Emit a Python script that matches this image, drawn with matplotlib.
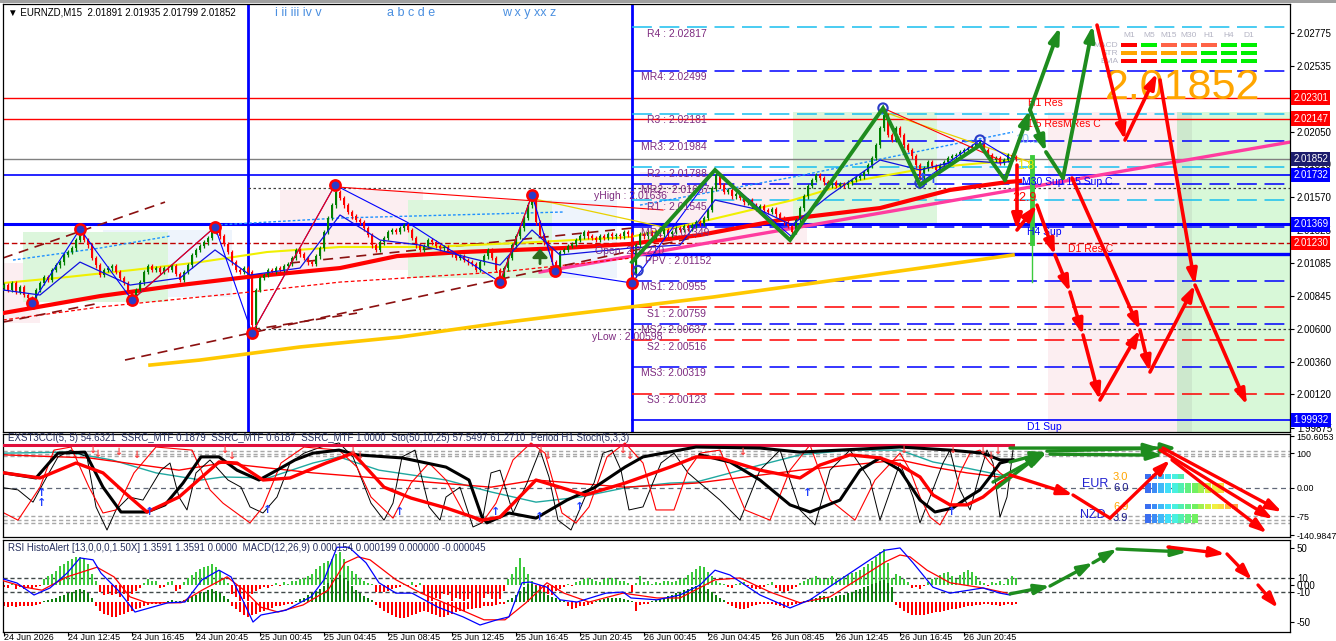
import matplotlib
matplotlib.use("Agg")
import matplotlib.pyplot as plt
from matplotlib.patches import Rectangle
import numpy as np

plt.rcParams['font.family'] = ['Liberation Sans', 'DejaVu Sans']

# ---------------- data ----------------
# M15 closes, one per bar (bar 0 = 24 Jun 08:45)
closes = [
    2.00923, 2.00887, 2.00938, 2.00872, 2.00909, 2.00850, 2.00828, 2.00813, 2.00887, 2.00938,
    2.00982, 2.00960, 2.01034, 2.01070, 2.01092, 2.01144, 2.01166, 2.01195, 2.01254, 2.01313,
    2.01254, 2.01217, 2.01122, 2.01070, 2.00997, 2.01034, 2.01048, 2.01063, 2.01019, 2.00975,
    2.00938, 2.00872, 2.00828, 2.00887, 2.00945, 2.01019, 2.01063, 2.01034, 2.01048, 2.01019,
    2.01048, 2.01034, 2.01063, 2.01004, 2.00960, 2.01019, 2.01070, 2.01144, 2.01181, 2.01210,
    2.01239, 2.01269, 2.01313, 2.01328, 2.01283, 2.01225, 2.01166, 2.01092, 2.01034, 2.01019,
    2.01048, 2.01019, 2.00629, 2.00887, 2.00975, 2.00997, 2.01034, 2.01019, 2.01048, 2.01034,
    2.01063, 2.01078, 2.01122, 2.01181, 2.01151, 2.01122, 2.01092, 2.01078, 2.01136, 2.01195,
    2.01313, 2.01416, 2.01511, 2.01607, 2.01563, 2.01511, 2.01460, 2.01430, 2.01401, 2.01386,
    2.01342, 2.01291, 2.01217, 2.01181, 2.01239, 2.01269, 2.01313, 2.01328, 2.01313, 2.01342,
    2.01364, 2.01328, 2.01269, 2.01217, 2.01181, 2.01210, 2.01254, 2.01239, 2.01210, 2.01195,
    2.01203, 2.01166, 2.01151, 2.01122, 2.01136, 2.01107, 2.01092, 2.01078, 2.01034, 2.01092,
    2.01136, 2.01181, 2.01122, 2.01034, 2.00975, 2.01048, 2.01122, 2.01217, 2.01283, 2.01342,
    2.01416, 2.01511, 2.01563, 2.01386, 2.01291, 2.01239, 2.01195, 2.01092, 2.01048, 2.01166,
    2.01181, 2.01210, 2.01225, 2.01254, 2.01283, 2.01313, 2.01283, 2.01269, 2.01254, 2.01283,
    2.01269, 2.01298, 2.01283, 2.01291, 2.01283, 2.01313, 2.01298, 2.00997, 2.01217, 2.01298,
    2.01283, 2.01313, 2.01283, 2.01313, 2.01298, 2.01328, 2.01298, 2.01313, 2.01342, 2.01328,
    2.01357, 2.01342, 2.01364, 2.01386, 2.01372, 2.01416, 2.01475, 2.01636, 2.01732, 2.01658,
    2.01607, 2.01622, 2.01577, 2.01592, 2.01563, 2.01533, 2.01548, 2.01511, 2.01489, 2.01504,
    2.01475, 2.01460, 2.01482, 2.01445, 2.01416, 2.01386, 2.01357, 2.01313, 2.01401, 2.01489,
    2.01577, 2.01651, 2.01695, 2.01732, 2.01710, 2.01680, 2.01658, 2.01680, 2.01651, 2.01666,
    2.01658, 2.01680, 2.01695, 2.01710, 2.01724, 2.01754, 2.01805, 2.01857, 2.01952, 2.02077,
    2.02173, 2.02026, 2.01989, 2.02077, 2.02026, 2.01952, 2.01916, 2.01871, 2.01805, 2.01710,
    2.01783, 2.01827, 2.01798, 2.01769, 2.01805, 2.01827, 2.01857, 2.01871, 2.01879, 2.01901,
    2.01916, 2.01930, 2.01945, 2.01960, 2.01974, 2.01916, 2.01879, 2.01842, 2.01857, 2.01820,
    2.01842, 2.01879, 2.01864, 2.01852,
]
first_open = 2.00905

time_bars = [0, 16, 32, 48, 64, 80, 96, 112, 128, 144, 160, 176, 192, 208, 224, 240]
time_labels = ['24 Jun 2026', '24 Jun 12:45', '24 Jun 16:45', '24 Jun 20:45', '25 Jun 00:45',
               '25 Jun 04:45', '25 Jun 08:45', '25 Jun 12:45', '25 Jun 16:45', '25 Jun 20:45',
               '26 Jun 00:45', '26 Jun 04:45', '26 Jun 08:45', '26 Jun 12:45', '26 Jun 16:45',
               '26 Jun 20:45']

price_ticks = [2.02775, 2.02535, 2.02050, 2.01810, 2.01570, 2.01325, 2.01085,
               2.00845, 2.00600, 2.00360, 2.00120, 1.99875]
price_boxes = [(2.02301, '#FF0000'), (2.02147, '#FF0000'), (2.01852, '#1C1C6C'),
               (2.01732, '#0000FF'), (2.01369, '#0000FF'), (2.01230, '#FF0000'),
               (1.99932, '#0000FF')]

# daily pivots (drawn from the day separator onward)
pivots = [('R4 : ', 2.02817, '#19BFEF'), ('MR4: ', 2.02499, '#0000FF'),
          ('R3 : ', 2.02181, '#19BFEF'), ('MR3: ', 2.01984, '#0000FF'),
          ('R2 : ', 2.01788, '#19BFEF'), ('MR2 : ', 2.01667, '#0000FF'),
          ('R1 : ', 2.01545, '#19BFEF'), ('MR1 : ', 2.01349, '#0000FF'),
          ('MS1: ', 2.00955, '#0000FF'), ('S1 : ', 2.00759, '#FF0000'),
          ('MS2: ', 2.00637, '#0000FF'), ('S2 : ', 2.00516, '#FF0000'),
          ('MS3: ', 2.00319, '#0000FF'), ('S3 : ', 2.00123, '#FF0000')]
ppv = 2.01152
d1_sup = 1.99932
y_high = 2.01636
y_low = 2.00598

# shaded zones: (bar0, bar1, price0, price1, colour)
zones = [(-0.25, 9, 2.00644, 2.01085, '#FCEEF1'),
         (24.75, 57, 2.00835, 2.01328, '#EEF4FC'),
         (4.75, 41, 2.00798, 2.01313, '#DCF6DC'),
         (69, 104.75, 2.01034, 2.01622, '#FCEEF1'),
         (137, 153.25, 2.00975, 2.01548, '#EEF4FC'),
         (101, 137, 2.00975, 2.01548, '#DCF6DC'),
         (159, 200.75, 2.01232, 2.01754, '#FCEEF1'),
         (197.25, 233.25, 2.01379, 2.02195, '#DCF6DC'),
         (233.25, 249, 2.01695, 2.02195, '#EEF4FC'),
         (261, 293.25, 1.99843, 2.02195, '#FCEEF1'),
         (293.25, 321.5, 1.99843, 2.02195, '#D8F8D8'),
         (293.25, 297, 1.99843, 2.02195, '#CDE8CD')]

ma_red = [(-0.25, 2.00717), (24, 2.00842), (44, 2.00923), (60.75, 2.00982), (84, 2.01048),
          (98.25, 2.01136), (114.75, 2.01166), (139.75, 2.01195), (156.5, 2.01225),
          (174, 2.01291), (194, 2.01401), (219, 2.01489), (236.5, 2.01622), (250.75, 2.01680),
          (254, 2.01688)]
ma_gold = [(36.5, 2.00335), (49, 2.00372), (74, 2.00468), (99, 2.00541), (124, 2.00644),
           (144, 2.00717), (177.25, 2.00835), (211.5, 2.00975), (252.25, 2.01144)]
ma_yellow = [(-0.25, 2.00938), (15.75, 2.00982), (32.25, 2.01034), (49, 2.01092),
             (65.75, 2.01166), (84, 2.01203), (106.5, 2.01203), (128.25, 2.01232),
             (156.5, 2.01276), (174, 2.01386), (197.25, 2.01548), (214, 2.01695),
             (230.75, 2.01783), (247.25, 2.01827), (252.25, 2.01842)]
ma_blue = [(-0.25, 2.00887), (9, 2.00850), (19, 2.01092), (31.5, 2.00923), (44, 2.00975),
           (52.75, 2.01181), (61.5, 2.00997), (74, 2.01048), (84, 2.01438), (94, 2.01254),
           (104, 2.01217), (116.5, 2.01122), (124, 2.01070), (132, 2.01328), (139, 2.01144),
           (156.5, 2.01195), (169, 2.01217), (177.75, 2.01548), (189, 2.01475),
           (197, 2.01364), (206.5, 2.01585), (219, 2.01842), (229, 2.01769), (239, 2.01842),
           (249, 2.01820), (252.25, 2.01835)]
magenta_trend = [(134, 2.01019), (321.5, 2.01974)]
red_dash_ma = [(-0.25, 2.00666), (24, 2.00762), (61.5, 2.00872), (84, 2.00945),
               (124, 2.01019), (157, 2.01122)]
channels = [[(-0.25, 2.01122), (40.25, 2.01533)], [(30.25, 2.00372), (173, 2.01276)],
            [(61.5, 2.00593), (88.25, 2.00717)], [(71.5, 2.01085), (157, 2.01342)],
            [(-0.25, 2.00651), (24, 2.00791)]]
blue_dotted = [[(2.25, 2.01107), (24, 2.01195), (41.5, 2.01283)],
               [(52.75, 2.01364), (84, 2.01416), (139.75, 2.01460)],
               [(159, 2.01511), (197.25, 2.01717), (252.25, 2.02048)]]

zig_bars = [7, 19, 32, 52.75, 62, 82.75, 100.75, 124, 132, 137.75, 157, 177.75, 197,
            219.75, 229, 244, 252.25]
zig_prices = [2.00791, 2.01335, 2.00813, 2.01350, 2.00570, 2.01658, 2.01386, 2.00945,
              2.01585, 2.01026, 2.00938, 2.01769, 2.01276, 2.02224, 2.01673, 2.01989, 2.01842]
red_zig = [[(32, 2.00813), (52.75, 2.01350)], [(62, 2.00570), (82.75, 2.01658)],
           [(83.25, 2.01644), (164.75, 2.01475)], [(124, 2.00945), (132, 2.01585)],
           [(219.75, 2.02224), (249, 2.01842)]]
yellow_thin = [[(131.5, 2.01563), (164.75, 2.01350)], [(220.75, 2.02187), (256.5, 2.01827)]]
swing_marks = [(7, 2.00791), (19, 2.01335), (32, 2.00813), (52.75, 2.01350), (62, 2.00570),
               (82.75, 2.01658), (124, 2.00945), (132, 2.01585), (137.75, 2.01026),
               (157, 2.00938)]
swing_marks_blue = [(219.75, 2.02224), (229, 2.01673), (244, 2.01989), (158.5, 2.01030)]

# forecast paths in the price pane
green_path = [(157, 2.01092), (177.75, 2.01769), (196.5, 2.01254), (219.75, 2.02224),
              (229, 2.01658), (244, 2.01952), (250.25, 2.01695)]
green_arrows = [(250.25, 2.01695, 256.5, 2.02210), (256.5, 2.02210, 264, 2.02820),
                (256.5, 2.02210, 260.5, 2.01901), (260.5, 2.01901, 264.75, 2.01710),
                (264.75, 2.01710, 272.25, 2.02834)]
red_arrows = [(253.25, 2.01805, 253.25, 2.01328), (253.25, 2.01328, 258.25, 2.01511),
              (258.25, 2.01511, 262.75, 2.01144), (262.75, 2.01144, 266.5, 2.00872),
              (266.5, 2.00872, 269.75, 2.00556), (269.75, 2.00556, 274, 2.00078),
              (274, 2.00078, 284, 2.00593), (267, 2.01710, 284, 2.00593),
              (284, 2.00593, 286.5, 2.00284), (286.5, 2.00284, 297.75, 2.00923),
              (297.75, 2.00923, 310.75, 2.00041), (273.25, 2.02834, 280.25, 2.01989),
              (280.25, 2.01989, 288.25, 2.02481), (289, 2.02430, 297.75, 2.00923)]

# signal table (top right)
tf_names = ['M1', 'M5', 'M15', 'M30', 'H1', 'H4', 'D1']
table_rows = ['MACD', 'STR', 'EMA']
table_cols = [['#FF0000', '#00F000', '#FF6347', '#FF6347', '#FF6347', '#00F000', '#00F000'],
              ['#FFA500', '#FFA500', '#FFA500', '#FFA500', '#00F000', '#00F000', '#00F000'],
              ['#FF0000', '#FF0000', '#00F000', '#00F000', '#00F000', '#00F000', '#00F000']]
table_prices = [2.02687, 2.02628, 2.02570]

# ---- CCI / stochastic pane ----
cci_black_a = [(0, 43), (8, 28), (11.25, 72), (13.5, 101), (20.25, 104), (24.75, 1), (29.25, -72),
               (35.75, -72), (40.25, -51), (44.75, 13), (49.25, 90), (53.75, 90), (58.25, 51),
               (63.75, 22), (68.25, 51), (72.75, 81), (77.25, 101), (83.75, 110), (88.25, 96),
               (99.5, 87), (110.5, 60), (116.25, 22), (119.5, -87), (120.75, -104),
               (126.25, -75), (133, -90), (140.75, -37), (147.5, -1), (155.25, 60),
               (159.75, 90), (173, 119), (189, 116), (199, 104), (209, 110), (224, 119),
               (236.5, 110), (244.75, 101), (249, 81), (252.25, 81)]
cci_black_b = [(174, 96), (181.5, 75), (189, 22), (196.5, -51), (201.5, -72), (209, -37),
               (214, 51), (219, 87), (224, 51), (229, -37), (232.75, -72), (237.25, -60),
               (240.75, -31), (244, -7), (246.5, 31), (249, 72), (252.25, 81)]
cci_red_thick = [(0, 43), (9, 28), (18, 72), (24.75, 43), (30.25, -16), (35.75, -72),
                 (43.75, -28), (53.75, 75), (58.25, 72), (64.75, 22), (71.5, 28), (80.5, 72),
                 (87.25, 101), (95, 1), (101.75, -31), (110.5, -60), (119.5, -96), (124, -87),
                 (133, 22), (139.5, -1), (145.25, -22), (155.25, 13), (166.5, 60), (173, 90),
                 (179, 87), (189, 51), (199, 28), (204, 66), (211.5, 96), (219, 87), (224, 66),
                 (229, 31), (232.25, -22), (236.5, -51), (240.75, -51), (244.75, -28),
                 (249, 13), (251.5, 31)]
cci_thin_black = [(0, -1), (3.5, -7), (7.25, -43), (10.25, 22), (13.5, 90), (16.75, 110),
                  (20.75, 90), (23, -57), (25.75, -125), (28, -66), (31.25, -28), (34.75, -37),
                  (39.25, 51), (41.5, 72), (43.75, -28), (45.75, -66), (48, 43), (51.5, 81),
                  (56, 22), (59.25, 1), (61.5, -57), (64.75, -75), (68.25, -28), (71.5, 72),
                  (75, 101), (79.25, 119), (83.75, 131), (87.25, 90), (91.75, -46), (95, -96),
                  (97.25, -46), (99.5, 90), (102.75, 110), (106.25, -57), (109, -96),
                  (110.5, -28), (114, 1), (117.25, -116), (119.5, -104), (121.75, 43),
                  (124, 51), (127.25, -75), (130.75, 13), (134, 110), (136.25, 31),
                  (138.5, -96), (141.75, -125), (145.25, -28), (147.5, 13), (149.75, 101),
                  (152, 110), (154.25, 51), (156.25, -66), (159.75, -57), (164.25, 72),
                  (167.5, 101), (171, 43), (174, 13), (179, -37), (184, -96), (189, 51),
                  (194, 110), (199, -66), (202.75, -110), (206.5, 51), (211.5, 110),
                  (216.5, 22), (219, -96), (224, 72), (227.25, -28), (229, -104),
                  (231.5, -28), (234.75, 72), (236.5, 110), (239, -7), (241.5, -66),
                  (244, 43), (245.75, 110), (247.25, 72), (249, -87), (250.75, -28),
                  (252.25, 110)]
cci_thin_red = [(0, -75), (3.5, -96), (9, 1), (12.5, 110), (16.75, 119), (21.25, 1),
                (24.75, -75), (28, -66), (32.5, 43), (38, 119), (47, 110), (51.5, -7),
                (54.75, -46), (61.5, -104), (64.75, -57), (69.25, 72), (75, 119), (83.75, 110),
                (88.25, 60), (91.75, -28), (97.25, -90), (101.75, 13), (106.25, 72),
                (110.5, 22), (115, -75), (119.5, -104), (123, -46), (127.25, 81),
                (131.75, 131), (135.25, 101), (139.5, -75), (143, -104), (146.25, -57),
                (150.75, 90), (155.25, 131), (159.75, 72), (163, -66), (167.5, -66),
                (171, 51), (174, 101), (179, 110), (185.25, -66), (191.5, -96), (196.5, 51),
                (201.5, 125), (206.5, -37), (212.75, -96), (217.75, 22), (224, 101),
                (226.5, 51), (229, -28), (231.5, -87), (234, -110), (236.5, -57), (239, 43),
                (241.5, 101), (244, 110), (246.5, 72), (249, 43), (251.5, 22)]
cci_teal = [(0, 101), (15.75, 104), (27, 81), (38, 43), (49.25, 22), (54.75, 31), (66, 28),
            (77.25, 72), (83.75, 90), (93.75, 51), (110.5, 22), (121.75, -13), (133, -43),
            (144, -28), (155.25, -1), (166.5, 13), (173, 16), (189, 66), (199, 96),
            (211.5, 110), (224, 110), (232.25, 75), (240.75, 57), (249, 37), (251.5, 34)]
cci_red_slow = [(0, 96), (21.25, 87), (43.75, 51), (54.75, 72), (77.25, 43), (99.5, 22),
                (121.75, 1), (133, 22), (155.25, 1), (173, 13), (199, 51), (224, 81),
                (232.25, 60), (240.75, 43), (250.75, 28)]
cci_up_bars = [9.5, 9.5, 36.5, 66, 99, 123, 134, 144, 201, 237]
cci_up_vals = [-16, -46, -72, -66, -72, -72, -87, -57, -16, -72]
cci_dn_bars = [22, 23.2, 28.5, 33, 55, 56.8, 87, 88.8, 134, 135.8, 154.5, 156.3,
               184.5, 224.75, 237, 244.5, 246.5, 248.3]
cci_dn_vals = [110, 98, 104, 96, 110, 94, 106, 94, 110, 94, 110, 94, 104, 110, 110, 106,
               94, 106]
cci_green = [(247.25, 16, 260.75, 104), (248.25, -1, 259.75, 104), (251.5, 75, 260.75, 104),
             (260.75, 107, 289, 116), (251.5, 116, 293.25, 116), (261.5, 98, 289.75, 95)]
cci_red = [(289.75, 116, 319.5, -72), (289, 110, 317.25, -93), (292, 81, 315.75, -134),
           (251.5, 37, 267.25, -22), (267.25, -22, 276.5, -90), (276.5, -90, 291.5, 81)]
meter_names = ['EUR', 'NZD']
meter_vals = [3.0, 6.0, 6.9, 3.9]
meter_levels = [32, -1, -56, -91]
meter_heights = [14, 28, 14, 26]

# ---- RSI histo / MACD pane ----
rsi_hist = [-3, -4, 2, -5, -3, -5, -4, -6, -3, -2,
            8, 12, 15, 19, 26, 28, 33, 35, 38, 38, 35, 28, 15, 6,
            -10, -14, -12, -13, -12, -16, -12, -21, -12, -8, -4, 3,
            8, 5, 6, -4, -3, 4, 6, -8, -5, 4,
            10, 14, 17, 22, 24, 26, 28, 24, 19, 10, 3,
            -12, -16, -21, -19, -21, -12, -8, -6, -3, -4, -2,
            3, -2, 4, 2, 5,
            6, 8, 10, 12, 15, 21, 26, 30, 33, 35, 42, 44, 35, 26, 19, 15, 10, 6, 3, 2,
            -10, -10, -10, -8, -6, -4, -3, 2, -2,
            4, -3, 3,
            -12, -21, -21, -17, -19, -12, -14, -21, -17, -19, -21, -19, -24, -26, -26, -17,
            -12, -19, -24, -19, -8,
            8, 15, 24, 37, 24, 15, 6,
            -4, -8, -10, -12, -14, -8, -5, -3, 2, -2,
            4, 6, 8, 10, 8, 6, 4, 8, 10, 10, 8, 6, 5, 3,
            -10, 3, 12, 4, 5, 2, 4,
            3, 5, 6, 4, 5, 8, 10, 14, 18, 22, 26, 24, 18, 12, 6, 3, 2,
            -3, -4, 2, 3, 4, -2, -4, -6, -5, -3, 2, 4, -4, -8,
            -10, -8, -6, -3, 3, 6,
            8, 10, 12, 10, 8, 10, 12, 8, 10, 12, 14, 16, 18, 20, 24, 28, 33, 38, 44, 48, 30, 10,
            15, 12, 8, 4, -4, -3, -6,
            -2, 4, 8, 10, 14, 16, 18, 12, 8, 14, 18, 20, 17, 12, 6, 3, -2, 4, 3, 6, 2, 8, 12, 10]
macd_hist = [-6, -7, -6, -7, -6, -5, -6, -5, -4, -3,
             2, 3, 4, 6, 8, 10, 12, 14, 16, 18, 16, 12, 6,
             -6, -12, -16, -18, -20, -20, -18, -16, -14, -12, -10, -8, -6, -4, -3, -2,
             -2, -1, 2, 3, 2, 1,
             3, 5, 8, 10, 12, 14, 16, 17, 15, 12, 8, 4,
             -5, -10, -14, -18, -20, -18, -16, -14, -12, -10, -8, -6, -5, -4, -3, -2,
             2, 4, 6, 9, 12, 15, 18, 22, 26, 30, 34, 36, 33, 28, 22, 16, 12, 8, 5, 3,
             -4, -8, -12, -15, -18, -20, -22, -22, -20, -18, -16, -14, -12, -14, -16, -18,
             -20, -20, -18, -16, -14, -12, -12, -10, -10, -8, -8, -6, -6, -5, -4, -3, -2,
             3, 6, 10, 15, 20, 24, 25, 22, 18, 14, 10, 7, 5, 3, 2,
             -6, -10, -8, -6, -5, -4, -3, 2, 3, 4, 5, 6, 6, 5, 4, 3, 2, -12, -4, -3, -2, 2, 3,
             4, 6, 8, 10, 12, 14, 16, 18, 20, 22, 24, 22, 18, 14, 10, 6, 3,
             -3, -6, -8, -10, -10, -8, -6, -4, -3, -2, -2, -3, -4, -6, -8, -6, -4, -3, -2, 2,
             3, 5, 6, 8, 8, 7, 6, 8, 9, 10, 12, 14, 16, 18, 20, 22, 24, 26, 28, 30, 26, 20,
             -4, -8, -12, -15, -17, -18, -18, -17, -16, -15, -14, -13, -12, -11, -10, -9, -8,
             -7, -6, -5, -4, -4, -3, -3, -4, -4, -5, -4, -3, -4, -3]
macd_base = -23
rsi_blue_b = [-1, 3.25, 7.5, 11.5, 15.75, 19, 22.25, 24.25, 28.5, 32.75, 37, 41, 45.25, 49.5,
              53.75, 56.75, 60, 62.25, 64.25, 70.5, 76.75, 80, 83.25, 86.25, 90.5, 93.75, 98,
              102, 108.5, 114.75, 119, 123.25, 126.25, 129.5, 131.5, 135.75, 139, 143.25,
              150.5, 154.75, 156.75, 163.25, 169, 174, 177.75, 181.5, 189, 196.5, 201.5, 209,
              216.5, 220.25, 224, 227.25, 232.25, 236.5, 244.75, 249, 251.5]
rsi_blue_v = [9.5, 2.7, -13.5, -4, 16, 36.5, 34, 16, -7, -36.5, -30, -24, -23, 7, 20, 11, -24,
              -50, -40.5, -34, -16, 7, 51, 51, 30, 3, -11, -11, -30, -43, -54, -47, -43, 3, 4,
              -3, -20, -23, -11, -9.5, -17.5, -20, -13.5, 0, 20, 13.5, -13.5, -31, -20, 7, 34,
              47, 50, 30, -3, -11, -4, -11, -13.5]
rsi_red_b = [-1, 5.25, 9.5, 15.75, 23.25, 27.5, 31.5, 35.75, 44.25, 49.5, 55.75, 60, 64.25,
             68.5, 74.75, 81, 85.25, 88.5, 91.5, 98, 104.25, 112.75, 120, 125.25, 130.5,
             135.75, 140, 146.25, 154.75, 163.25, 169, 177.75, 184, 191.5, 199, 206.5, 214,
             220.25, 224, 226.5, 230.75, 236.5, 244.75, 250.75]
rsi_red_v = [7, -3, -7, 11, 24, 11, -16, -24, -24, -7, 11, -7, -30, -36.5, -27, -7, 30, 38, 34,
             7, -11, -30, -47, -47, -24, 3, -11, -23, -11, -17.5, -17.5, 7, 9.5, -9.5, -24, -16,
             9.5, 31, 40.5, 38, 20, 3, -4, -11]
rsi_green = [(251.5, -12, 261.5, -1.4), (261.5, -1.4, 272.25, 30), (272.25, 30, 278.25, 48.6),
             (278.25, 48.6, 295.75, 44.5)]
rsi_red = [(291, 51.3, 305.25, 41.9), (305.75, 41.9, 312, 6.75), (313.5, 0, 318.5, -31)]

# ---------------- figure ----------------
W, H = 1336, 641
fig = plt.figure(figsize=(W / 100, H / 100), dpi=100)
fig.patch.set_facecolor('white')
fig.add_artist(Rectangle((0, 1 - 2.5 / H), 1, 2.5 / H, transform=fig.transFigure,
                         color='#A0A0A0', lw=0))


def pane(x0, y0, x1, y1):
    a = fig.add_axes([x0 / W, 1 - y1 / H, (x1 - x0) / W, (y1 - y0) / H])
    a.set_xlim(-0.25, 321.5)
    a.set_facecolor('white')
    for s in a.spines.values():
        s.set_linewidth(0.9)
        s.set_color('black')
    a.yaxis.tick_right()
    a.tick_params(axis='y', length=3, pad=2, labelsize=7, colors='black')
    a.set_xticks([])
    return a


GREEN = '#1E8C1E'
RED = '#FF0000'
PURPLE = '#7E2C80'


def arrow(a, b0, v0, b1, v1, color, head=True, lw=2.6):
    if head:
        a.annotate('', xy=(b1, v1), xytext=(b0, v0), zorder=9, annotation_clip=False,
                   arrowprops=dict(arrowstyle='-|>,head_length=0.9,head_width=0.3',
                                   color=color, lw=lw, shrinkA=0, shrinkB=0,
                                   mutation_scale=10))
    else:
        a.plot([b0, b1], [v0, v1], color=color, lw=lw, zorder=9, solid_capstyle='round')


def xy(pts):
    return [p[0] for p in pts], [p[1] for p in pts]


# ======== price pane ========
ax = pane(3, 4, 1290, 432)
ax.set_ylim(1.99843, 2.02989)
ax.set_yticks(price_ticks)
ax.set_yticklabels([f'{v:.5f}' for v in price_ticks])

for b0, b1, p0, p1, c in zones:
    ax.add_patch(Rectangle((b0, p0), b1 - b0, p1 - p0, color=c, lw=0, zorder=0))

# full width levels
ax.axhline(2.02301, color=RED, lw=1, zorder=1)
ax.axhline(2.02147, color=RED, lw=1, zorder=1)
ax.axhline(2.01852, color='#808080', lw=1, zorder=1)
ax.axhline(2.01732, color='#0000FF', lw=1.2, zorder=1)
ax.axhline(2.01369, color='#0000FF', lw=2.2, zorder=1)
ax.axhline(2.01230, color='#C00000', lw=1, ls=(0, (4, 2)), zorder=1)

sep = [61, 157]
for b in sep:
    ax.axvline(b, color='#0000FF', lw=2, zorder=1)

ax.plot([157, 321.5], [ppv, ppv], color='#0000FF', lw=2.4, zorder=1)
ax.plot([157, 321.5], [d1_sup, d1_sup], color='#0000FF', lw=1.2, zorder=1)
ax.plot([61, 321.5], [y_high, y_high], color='#404040', lw=0.9, ls=(0, (2, 2)), zorder=1)
ax.plot([61, 321.5], [y_low, y_low], color='#404040', lw=0.9, ls=(0, (2, 2)), zorder=1)
for name, p, c in pivots:
    ax.plot([157, 321.5], [p, p], color=c, lw=1.1, ls=(0, (13, 5)), zorder=1)
    xb = 159.25 if name.startswith('M') else 160.75
    ax.text(xb, p - 0.00045, f'{name}{p:.5f}', color=PURPLE, fontsize=7.5, va='center',
            zorder=7)
ax.text(160.25, ppv - 0.00050, f'PPV : {ppv:.5f}', color=PURPLE, fontsize=7.5, va='center',
        zorder=7)
ax.text(147.5, 2.01577, f'yHigh : {y_high:.5f}', color=PURPLE, fontsize=7.5, va='center',
        zorder=7)
ax.text(147, 2.00541, f'yLow : {y_low:.5f}', color=PURPLE, fontsize=7.5, va='center', zorder=7)
ax.text(147.75, 2.01173, 'Open: 2.01210', color=PURPLE, fontsize=7.5, va='center', zorder=7)

# moving averages and trend lines
ax.plot(*xy(ma_gold), color='#FFC800', lw=2.6, zorder=2)
ax.plot(*xy(magenta_trend), color='#FF3CA0', lw=2.4, zorder=2)
ax.plot(*xy(red_dash_ma), color=RED, lw=0.9, ls=(0, (3, 2)), zorder=2)
for seg in channels:
    ax.plot(*xy(seg), color='#8B1010', lw=1.2, ls=(0, (6, 4)), zorder=2)
for seg in blue_dotted:
    ax.plot(*xy(seg), color='#1E90FF', lw=1, ls=(0, (2, 1.5)), zorder=2)
ax.plot(*xy(ma_yellow), color='#F0F000', lw=1.5, zorder=2)
ax.plot(*xy(ma_red), color=RED, lw=3, zorder=3)
for seg in yellow_thin:
    ax.plot(*xy(seg), color='#E8D000', lw=0.9, zorder=2)

# candles
o = np.r_[first_open, closes[:-1]]
c = np.array(closes)
x = np.arange(len(c))
up = c >= o
hi = np.maximum(o, c) + 0.00018
lo = np.minimum(o, c) - 0.00018
ax.vlines(x[up], lo[up], hi[up], color='#008000', lw=0.9, zorder=4)
ax.vlines(x[~up], lo[~up], hi[~up], color=RED, lw=0.9, zorder=4)
body = np.maximum(np.abs(c - o), 0.00005)
ax.bar(x[up], body[up], bottom=np.minimum(o, c)[up], width=0.72, color='#008000', zorder=4)
ax.bar(x[~up], body[~up], bottom=np.minimum(o, c)[~up], width=0.72, color=RED, zorder=4)

ax.plot(*xy(ma_blue), color='#1010E0', lw=0.9, zorder=5)
ax.plot(zig_bars, zig_prices, color='#0000FF', lw=0.8, zorder=5)
for seg in red_zig:
    ax.plot(*xy(seg), color=RED, lw=0.8, zorder=5)
ax.scatter(*xy(swing_marks), s=55, facecolors='#2A3CC8', edgecolors=RED, linewidths=1.8,
           zorder=6)
ax.scatter(*xy(swing_marks_blue), s=45, facecolors='none', edgecolors='#2A3CC8',
           linewidths=1.5, zorder=6)
ax.annotate('', xy=(134, 2.01190), xytext=(134, 2.01080), zorder=7,
            arrowprops=dict(arrowstyle='-|>,head_length=0.5,head_width=0.45', color='#2E6B1E',
                            lw=2, shrinkA=0, shrinkB=0, mutation_scale=10))
ax.text(231, 2.01700, '↑↑', color='#3050FF', fontsize=10, fontweight='bold', ha='center',
        va='center', zorder=7, family=['DejaVu Sans'])
ax.plot([257, 257], [2.01864, 2.01232], color='#3CCB3C', lw=3.5, zorder=5)
ax.plot([257, 257], [2.01232, 2.00945], color='#3CCB3C', lw=1, zorder=5)

# forecast arrows
ax.plot(*xy(green_path), color=GREEN, lw=2.8, zorder=9, solid_joinstyle='miter')
for b0, v0, b1, v1 in green_arrows:
    arrow(ax, b0, v0, b1, v1, GREEN, head=(b1, v1) != (264.75, 2.01710), lw=2.8)
for b0, v0, b1, v1 in red_arrows:
    arrow(ax, b0, v0, b1, v1, RED, lw=2.6)

# right-hand annotations
ax.text(256, 2.02261, 'H1 Res', color=RED, fontsize=7.5, va='center', zorder=8)
ax.text(255.75, 2.02107, '1.5 ResMRes C', color=RED, fontsize=7.5, va='center', zorder=8)
ax.text(252.75, 2.01989, '10.3', color='#8EC0F0', fontsize=9, va='center', zorder=8)
ax.text(253.25, 2.01798, '1.8', color='#E8E800', fontsize=9, va='center', zorder=8)
ax.text(254.5, 2.01680, 'M30 Sup 1.5 Sup C', color='#0000FF', fontsize=7.5, va='center',
        zorder=8)
ax.text(252, 2.01563, '22.9', color=RED, fontsize=9, va='center', zorder=8)
ax.text(255.75, 2.01313, 'H4 Sup', color='#0000FF', fontsize=7.5, va='center', zorder=8)
ax.text(266, 2.01188, 'D1 Res C', color=RED, fontsize=7.5, va='center', zorder=8)
ax.text(255.75, 1.99880, 'D1 Sup', color='#0000FF', fontsize=7.5, va='center', zorder=8)
ax.text(275.25, 2.02371, f'{closes[-1]:.5f}', color='#FFA500', fontsize=31, va='center',
        zorder=7)

for i, name in enumerate(tf_names):
    ax.text(281.25 + 5 * i, 2.02761, name, color='#B4B4C4', fontsize=6, ha='center',
            va='center', zorder=8)
for r, (lab, cols) in enumerate(zip(table_rows, table_cols)):
    ax.text(278.6, table_prices[r], lab, color='#B4B4C4', fontsize=6, ha='right', va='center',
            zorder=8)
    for i, col in enumerate(cols):
        ax.add_patch(Rectangle((279.25 + 5 * i, table_prices[r] - 0.00016), 4, 0.00032,
                               color=col, lw=0, zorder=8))

ax.text(1, 2.02930, '▼ EURNZD,M15  2.01891 2.01935 2.01799 2.01852', fontsize=7,
        va='center', color='black', zorder=8)
for lab, b in [('i ii iii iv v', 67.75), ('a b c d e', 95.75), ('w x y xx z', 124.5)]:
    ax.text(b, 2.02925, lab, color='#4A8FE0', fontsize=9, va='center', zorder=8)

for p, col in price_boxes:
    ax.text(1.0025, p, f'{p:.5f}', transform=ax.get_yaxis_transform(), color='white',
            fontsize=7, va='center', ha='left', zorder=10, clip_on=False,
            bbox=dict(boxstyle='square,pad=0.22', fc=col, ec='none'))

# ======== CCI pane ========
cc = pane(3, 434, 1290, 537)
cc.set_ylim(-145.5, 157.3)
lev = [107, 99, 93, -84, -96, -104]
for v in lev:
    cc.axhline(v, color='#A8A8A8', lw=1, ls=(0, (3, 2)), zorder=1)
cc.axhline(0, color='#606878', lw=0.9, ls=(0, (4, 3)), zorder=1)
cc.set_yticks([150.6053, 100, 0, -84, -140.9847])
cc.set_yticklabels(['150.6053', '100', '0.00', '-75', '-140.9847'])
cc.tick_params(axis='y', labelsize=6.4, pad=1.5)
cc.plot([-0.25, 252.25], [125, 125], color='#E0103C', lw=2.2, zorder=3)
cc.plot(*xy(cci_teal), color='#20A8A0', lw=1, zorder=2)
cc.plot(*xy(cci_red_slow), color=RED, lw=1, zorder=2)
cc.plot(*xy(cci_thin_black), color='black', lw=0.7, zorder=2)
cc.plot(*xy(cci_thin_red), color=RED, lw=0.8, zorder=2)
cc.plot(*xy(cci_black_a), color='black', lw=2.2, zorder=3)
cc.plot(*xy(cci_black_b), color='black', lw=2.2, zorder=3)
cc.plot(*xy(cci_red_thick), color=RED, lw=2.4, zorder=4)
for b, v in zip(cci_up_bars, cci_up_vals):
    cc.text(b, v, '↑', color='#2040FF', fontsize=8, fontweight='bold', ha='center',
            va='center', zorder=5, family=['DejaVu Sans'])
for b, v in zip(cci_dn_bars, cci_dn_vals):
    cc.text(b, v, '↓', color='#FF4040', fontsize=7, fontweight='bold', ha='center',
            va='center', zorder=5, family=['DejaVu Sans'])
for b0, v0, b1, v1 in cci_green:
    arrow(cc, b0, v0, b1, v1, GREEN, lw=2.4)
for i, (b0, v0, b1, v1) in enumerate(cci_red):
    arrow(cc, b0, v0, b1, v1, RED, head=(i != 4), lw=2.4)
cc.text(269.5, 10, meter_names[0], color='#2020D0', fontsize=9, va='center', zorder=6)
cc.text(269, -81, meter_names[1], color='#2020D0', fontsize=9, va='center', zorder=6)
grad = ['#3A6EF0', '#3C8CF5', '#40B8F8', '#40E0F8', '#48F0E0', '#50F0B0', '#60F080', '#70F060',
        '#A0F050', '#D0F040', '#F0F040', '#F8E040', '#FFC040', '#FFA040']
for v, lvl, hgt, col in zip(meter_vals, meter_levels, meter_heights,
                            ['#FFA500', '#1C1C8C', '#FFA500', '#1C1C8C']):
    cc.text(277.25, lvl, f'{v:.1f}', color=col, fontsize=8, va='center', zorder=6)
    for k in range(int(round(v * 2))):
        cc.add_patch(Rectangle((285.25 + 1.67 * k, lvl - hgt / 2), 1.45, hgt,
                               color=grad[k], lw=0, zorder=6))
cc.text(1, 145, 'EXST3CCI(5, 5) 54.6321  SSRC_MTF 0.1879  SSRC_MTF 0.6187  SSRC_MTF 1.0000  '
        'Sto(50,10,25) 57.5497 61.2710  Period H1 Stoch(5,3,3)', fontsize=7, color='#27305F',
        va='center', zorder=7)

# ======== RSI / MACD pane ========
rs = pane(3, 540, 1290, 632)
rs.set_ylim(-63.45, 60.75)
rs.axhline(10, color='#404848', lw=1, ls=(0, (3, 2)), zorder=1)
rs.axhline(-10, color='#404848', lw=1, ls=(0, (3, 2)), zorder=1)
rs.set_yticks([50, 10, 0, -10, -50])
rs.set_yticklabels(['50', '10', '0.00', '-10', '-50'])
hx = np.arange(len(rsi_hist))
hv = np.array(rsi_hist)
rs.bar(hx, hv, width=0.72, color=np.where(hv >= 0, '#3CC83C', RED), zorder=2)
mx = np.arange(len(macd_hist))
mv = np.array(macd_hist)
rs.bar(mx, mv, bottom=macd_base, width=0.28, color=np.where(mv >= 0, '#108010', RED),
       zorder=2)
rs.plot(rsi_red_b, rsi_red_v, color=RED, lw=0.9, zorder=3)
rs.plot(rsi_blue_b, rsi_blue_v, color='#0000FF', lw=0.9, zorder=3)
for b0, v0, b1, v1 in rsi_green:
    arrow(rs, b0, v0, b1, v1, GREEN, lw=2.4)
for b0, v0, b1, v1 in rsi_red:
    arrow(rs, b0, v0, b1, v1, RED, lw=2.4)
rs.text(1, 50, 'RSI HistoAlert [13,0,0,0,1.50X] 1.3591 1.3591 0.0000  MACD(12,26,9) 0.000154 '
        '0.000199 0.000000 -0.000045', fontsize=7, color='#27305F', va='center', zorder=7)
rs.set_xticks(time_bars)
rs.set_xticklabels(time_labels, fontsize=6.5, ha='left')
rs.tick_params(axis='x', length=3, pad=-2.5, direction='out')

fig.savefig('out.png', dpi=100)
